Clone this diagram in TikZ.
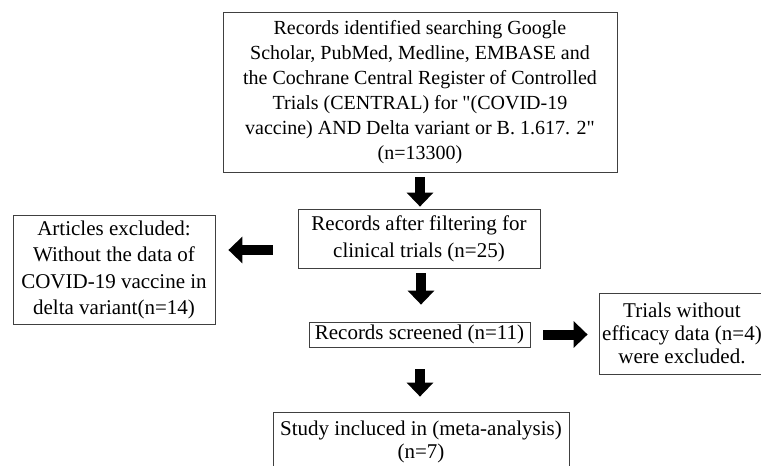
\documentclass[tikz,border=0pt]{standalone}
\usepackage{fontspec}
\setmainfont{Liberation Serif}
\usetikzlibrary{arrows.meta}
\tikzset{
  stage/.style={draw=black!75, line width=0.8pt, align=center, inner sep=1pt,
    font=\fontsize{21}{23}\selectfont},
  fatarrow/.style={line width=10pt, -{Triangle[width=26pt,length=14pt]}}
}
\begin{document}
\begin{tikzpicture}[x=1pt,y=-1pt]
  \useasboundingbox (0,0) rectangle (761,466);
  \clip (0,0) rectangle (761,466);
  % Registros identificados
  \node[stage, minimum width=394pt, minimum height=160pt,
    font=\fontsize{20}{25}\selectfont] (search) at (420,92)
    {Records identified searching Google\\Scholar, PubMed, Medline, EMBASE and\\the Cochrane Central Register of Controlled\\Trials (CENTRAL) for \textquotedbl(COVID-19\\vaccine) AND Delta variant or B. 1.617. 2\textquotedbl\\(n=13300)};
  % Filtrado
  \node[stage, minimum width=242pt, minimum height=59pt,
    font=\fontsize{21}{27}\selectfont] (filter) at (419,238.5)
    {Records after filtering for\\clinical trials (n=25)};
  % Excluidos
  \node[stage, minimum width=202pt, minimum height=109pt,
    font=\fontsize{21}{26.5}\selectfont] (excluded) at (114,270)
    {Articles excluded:\\Without the data of\\COVID-19 vaccine in\\delta variant(n=14)};
  % Cribado
  \node[stage, minimum width=221pt, minimum height=25pt] (screened) at (419.5,334.5)
    {Records screened (n=11)};
  % Sin datos de eficacia
  \node[stage, minimum width=166pt, minimum height=81pt] (noeff) at (682,333.5)
    {Trials without\\efficacy data (n=4)\\were excluded.};
  % Incluidos
  \node[stage, minimum width=296pt, minimum height=59pt] (included) at (421,441.5)
    {Study incluced in (meta-analysis)\\(n=7)};

  % Flechas
  \draw[fatarrow, shorten <=5pt, shorten >=2pt] (search.south -| 420,0) -- (filter.north -| 420,0);
  \draw[fatarrow, shorten <=25pt, shorten >=13pt] (filter.west |- 0,250) -- (excluded.east |- 0,250);
  \draw[fatarrow, shorten <=5pt, shorten >=17pt] (filter.south -| 421,0) -- (screened.north -| 421,0);
  \draw[fatarrow, shorten <=13pt, shorten >=11pt] (screened.east) -- (noeff.west |- screened.east);
  \draw[fatarrow, shorten <=22pt, shorten >=15pt] (screened.south -| 420,0) -- (included.north -| 420,0);
\end{tikzpicture}
\end{document}
